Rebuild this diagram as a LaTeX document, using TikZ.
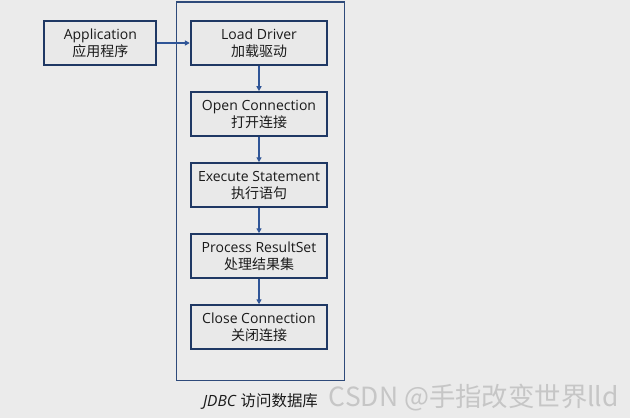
\documentclass[tikz,border=0pt]{standalone}
\usepackage{fontspec}
\setmainfont{Open Sans}
\newfontfamily\cjk{Noto Sans CJK SC}
\usepackage{xcolor}
\usepackage{tikz}
\usetikzlibrary{arrows.meta,positioning,calc,fit}
\definecolor{Paper}{HTML}{EBEBEB}
\definecolor{BoxFill}{HTML}{E9E9E9}
\definecolor{Navy}{HTML}{1F3864}
\definecolor{FrameLine}{HTML}{2E4A7A}
\definecolor{Blue}{HTML}{2F5597}
\definecolor{Ink}{HTML}{1A1A1A}
\definecolor{Faint}{HTML}{C6C6C6}
\tikzset{
  stage/.style={draw=Navy,fill=BoxFill,line width=1.5pt,minimum width=36mm,minimum height=11.6mm,align=center,text=Ink,font=\fontsize{10.5}{12.75}\selectfont},
  app/.style={stage,minimum width=29.6mm},
  frame/.style={draw=FrameLine,line width=1pt,inner sep=0pt},
  line/.style={-{Triangle[length=3.6pt,width=3.8pt]},line width=0.8pt,color=Blue},
  caption/.style={text=Ink,font=\fontsize{11.6}{13}\selectfont},
  watermark/.style={text=Faint,font=\cjk\fontsize{19.8}{22}\selectfont,inner sep=0pt}
}

\begin{document}
\begin{tikzpicture}[node distance=6.6mm]
  \fill[Paper] (0,0) rectangle (472.5pt,-313.5pt);
  \useasboundingbox (0,0) rectangle (472.5pt,-313.5pt);
  \node[stage] (load) at (194.25pt,-32.25pt) {Load Driver\\{\cjk 加载驱动}};
  \node[app,left=8.5mm of load] (application) {Application\\{\cjk 应用程序}};
  \node[stage,below=of load] (open) {Open Connection\\{\cjk 打开连接}};
  \node[stage,below=of open] (exec) {Execute Statement\\{\cjk 执行语句}};
  \node[stage,below=of exec] (process) {Process ResultSet\\{\cjk 处理结果集}};
  \node[stage,below=of process] (close) {Close Connection\\{\cjk 关闭连接}};
  % outer frame round the JDBC steps
  \coordinate (frameNW) at ($(load.north west)+(-9.75pt,13.5pt)$);
  \coordinate (frameSE) at ($(close.south east)+(12pt,-22.5pt)$);
  \node[frame,fit=(frameNW)(frameSE)] (jdbc) {};
  \node[caption,below=2.2mm of jdbc] (jdbcLabel) {\textit{JDBC} {\cjk 访问数据库}};
  \node[watermark,anchor=base west] (csdn) at ([xshift=1.6mm]jdbcLabel.base east) {CSDN @手指改变世界lld};
  \draw[line] (application.east) -- (load.west);
  \draw[line] (load) -- (open);
  \draw[line] (open) -- (exec);
  \draw[line] (exec) -- (process);
  \draw[line] (process) -- (close);
\end{tikzpicture}
\end{document}
